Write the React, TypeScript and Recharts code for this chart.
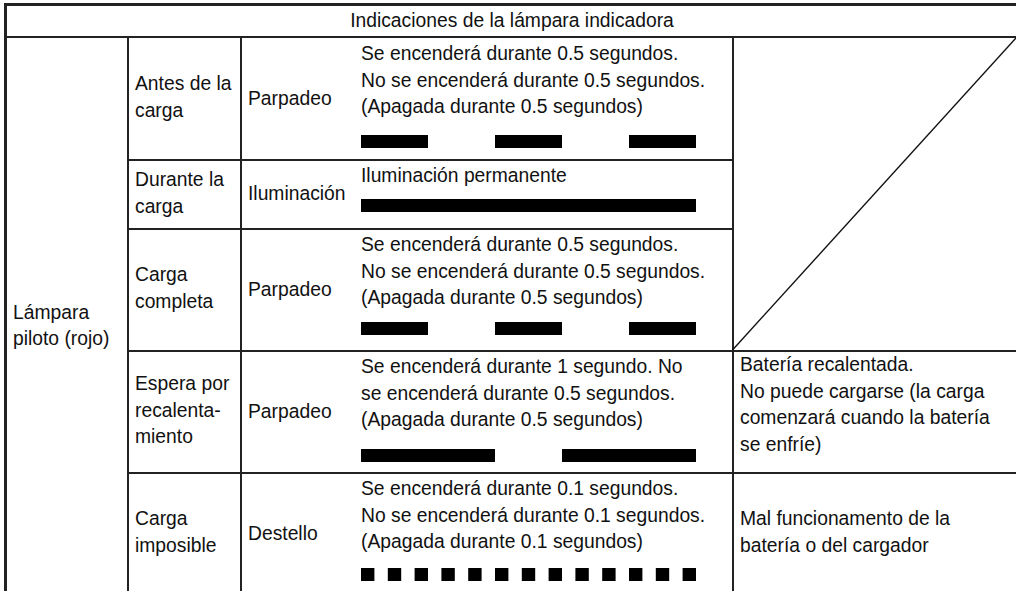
import { Bar, BarChart, XAxis, YAxis } from 'recharts'

// table content
const HEADER = 'Indicaciones de la lámpara indicadora'
const LAMP = ['Lámpara', 'piloto (rojo)']
const STAGES = [
  ['Antes de la', 'carga'],
  ['Durante la', 'carga'],
  ['Carga', 'completa'],
  ['Espera por', 'recalenta-', 'miento'],
  ['Carga', 'imposible']
]
const MODES = ['Parpadeo', 'Iluminación', 'Parpadeo', 'Parpadeo', 'Destello']
const DESCRIPTIONS = [
  ['Se encenderá durante 0.5 segundos.', 'No se encenderá durante 0.5 segundos.', '(Apagada durante 0.5 segundos)'],
  ['Iluminación permanente'],
  ['Se encenderá durante 0.5 segundos.', 'No se encenderá durante 0.5 segundos.', '(Apagada durante 0.5 segundos)'],
  ['Se encenderá durante 1 segundo. No', 'se encenderá durante 0.5 segundos.', '(Apagada durante 0.5 segundos)'],
  ['Se encenderá durante 0.1 segundos.', 'No se encenderá durante 0.1 segundos.', '(Apagada durante 0.1 segundos)']
]
const NOTE_OVERHEAT = ['Batería recalentada.', 'No puede cargarse (la carga', 'comenzará cuando la batería', 'se enfríe)']
const NOTE_FAULT = ['Mal funcionamento de la', 'batería o del cargador']

// blink patterns in seconds: on, off, on, off ...
const BLINK_ANTES = [0.5, 0.5, 0.5, 0.5, 0.5]
const BLINK_DURANTE = [2.5]
const BLINK_COMPLETA = [0.5, 0.5, 0.5, 0.5, 0.5]
const BLINK_ESPERA = [1, 0.5, 1]
const BLINK_IMPOSIBLE = [
  0.1, 0.1, 0.1, 0.1, 0.1, 0.1, 0.1, 0.1, 0.1, 0.1, 0.1, 0.1, 0.1,
  0.1, 0.1, 0.1, 0.1, 0.1, 0.1, 0.1, 0.1, 0.1, 0.1, 0.1, 0.1
]
const PATTERNS = [BLINK_ANTES, BLINK_DURANTE, BLINK_COMPLETA, BLINK_ESPERA, BLINK_IMPOSIBLE]

// layout
const ROW_TOPS = [37, 159, 228, 350, 472]
const ROW_HEIGHTS = [122, 69, 122, 122, 122]
const BAR_TOPS = [135, 199, 322, 449, 568]
const COL_X = [4, 127, 240, 732]
const LINE = '#222'
const FONT = "'Liberation Sans', Arial, Helvetica, sans-serif"
const LH = 26.7

function Lines ({ lines }: { lines: string[] }) {
  return (
    <>
      {lines.map((l, i) => (
        <div key={i} style={{ whiteSpace: 'nowrap' }}>{l}</div>
      ))}
    </>
  )
}

function BlinkBar ({ segments }: { segments: number[] }) {
  const row: Record<string, number | string> = { name: 'p' }
  segments.forEach((v, i) => { row[`s${i}`] = v })
  return (
    <BarChart
      layout='vertical'
      width={335}
      height={13}
      data={[row]}
      margin={{ top: 0, right: 0, bottom: 0, left: 0 }}
      barCategoryGap={0}
    >
      <XAxis type='number' domain={[0, 2.5]} allowDataOverflow hide />
      <YAxis type='category' dataKey='name' hide width={0} />
      {segments.map((_, i) => (
        <Bar
          key={i}
          dataKey={`s${i}`}
          stackId='p'
          fill={i % 2 === 0 ? '#000' : 'transparent'}
          isAnimationActive={false}
        />
      ))}
    </BarChart>
  )
}

const hLine = (x: number, y: number, w: number, t = 1.5) => (
  <div style={{ position: 'absolute', left: x, top: y, width: w, height: t, background: LINE }} />
)
const vLine = (x: number, y: number, h: number, t = 1.5) => (
  <div style={{ position: 'absolute', left: x, top: y, width: t, height: h, background: LINE }} />
)

export default function App () {
  return (
    <div
      style={{
        position: 'absolute',
        left: 0,
        top: 0,
        width: 1016,
        height: 591,
        overflow: 'hidden',
        background: '#fff',
        fontFamily: FONT,
        fontSize: 19.3,
        lineHeight: `${LH}px`,
        color: '#111'
      }}
    >
      {/* borders */}
      {hLine(4, 3, 1020, 3)}
      {vLine(4, 3, 600, 3)}
      {hLine(4, 36, 1020)}
      {vLine(COL_X[1], 37, 560)}
      {vLine(COL_X[2], 37, 560)}
      {vLine(COL_X[3], 37, 560)}
      {hLine(COL_X[1], ROW_TOPS[1], COL_X[3] - COL_X[1])}
      {hLine(COL_X[1], ROW_TOPS[2], COL_X[3] - COL_X[1])}
      {hLine(COL_X[1], ROW_TOPS[3], 900)}
      {hLine(COL_X[1], ROW_TOPS[4], 900)}
      <svg style={{ position: 'absolute', left: 0, top: 0 }} width={1016} height={591}>
        <line x1={732.5} y1={350} x2={1016} y2={38} stroke='#111' strokeWidth={1.4} />
      </svg>

      {/* header */}
      <div style={{ position: 'absolute', left: 4, top: 6, width: 1016, height: 30, textAlign: 'center', lineHeight: '30px' }}>
        {HEADER}
      </div>

      {/* lamp */}
      <div style={{ position: 'absolute', left: 13, top: 313 - LH / 2 }}>
        <Lines lines={LAMP} />
      </div>

      {STAGES.map((s, r) => (
        <div
          key={'s' + r}
          style={{
            position: 'absolute',
            left: 135,
            top: ROW_TOPS[r],
            height: ROW_HEIGHTS[r],
            display: 'flex',
            flexDirection: 'column',
            justifyContent: 'center'
          }}
        >
          <Lines lines={s} />
        </div>
      ))}

      {MODES.map((m, r) => (
        <div
          key={'m' + r}
          style={{
            position: 'absolute',
            left: 248,
            top: ROW_TOPS[r] + 1,
            height: ROW_HEIGHTS[r],
            display: 'flex',
            alignItems: 'center'
          }}
        >
          {m}
        </div>
      ))}

      {DESCRIPTIONS.map((d, r) => (
        <div key={'d' + r} style={{ position: 'absolute', left: 361, top: ROW_TOPS[r] + 4 }}>
          <Lines lines={d} />
        </div>
      ))}

      {PATTERNS.map((p, r) => (
        <div key={'p' + r} style={{ position: 'absolute', left: 361, top: BAR_TOPS[r] }}>
          <BlinkBar segments={p} />
        </div>
      ))}

      <div style={{ position: 'absolute', left: 740, top: ROW_TOPS[3] + 2 }}>
        <Lines lines={NOTE_OVERHEAT} />
      </div>
      <div
        style={{
          position: 'absolute',
          left: 740,
          top: ROW_TOPS[4],
          height: ROW_HEIGHTS[4],
          display: 'flex',
          flexDirection: 'column',
          justifyContent: 'center'
        }}
      >
        <Lines lines={NOTE_FAULT} />
      </div>
    </div>
  )
}
